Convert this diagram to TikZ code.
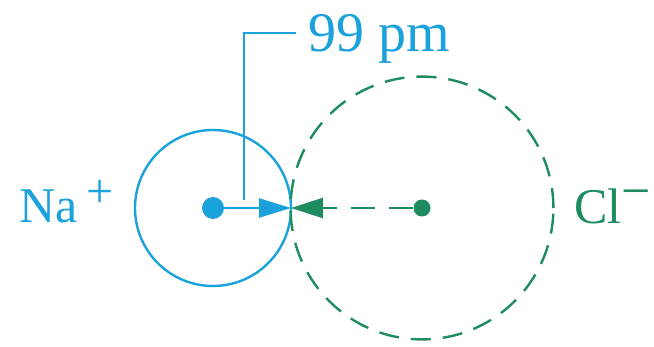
\documentclass[tikz,border=0pt]{standalone}
\usepackage{fontspec}
\setmainfont{Liberation Serif}
\usetikzlibrary{arrows.meta,positioning}
\definecolor{IonBlue}{HTML}{1BA1DB}
\definecolor{IonGreen}{HTML}{1E8C5E}
\begin{document}
\begin{tikzpicture}[
  x=0.5pt,y=-0.5pt,
  nadot/.style={circle,fill=IonBlue,inner sep=0pt,minimum size=11pt},
  cldot/.style={circle,fill=IonGreen,inner sep=0pt,minimum size=8.5pt},
  naring/.style={draw=IonBlue,line width=1.2pt},
  clring/.style={draw=IonGreen,line width=1.2pt,dash pattern=on 10pt off 6pt},
  naarr/.style={-{Triangle[length=16pt,width=9.5pt]},IonBlue,line width=1.2pt},
  clarr/.style={-{Triangle[length=16pt,width=10pt]},IonGreen,line width=1.2pt,dash pattern=on 12pt off 7pt},
  lead/.style={draw=IonBlue,line width=1.1pt},
  ion/.style={font=\fontsize{25}{28}\selectfont,inner sep=0pt},
  dist/.style={font=\fontsize{28}{32}\selectfont,inner sep=0pt,text=IonBlue}
]
\useasboundingbox (0,0) rectangle (654,347);
\node[nadot] (na) at (213,208) {};
\node[cldot] (cl) at (422,208) {};
\coordinate (touch) at (291,208);
\draw[naring] (na.center) circle[radius=39pt];
\draw[clring] (cl.center) circle[radius=65.7pt];
\draw[naarr] (na) -- (touch);
\draw[clarr] (cl) -- (touch);

\coordinate (foot) at (244,200);
\coordinate (knee) at (244,33);
\node[dist,anchor=base west] (pm) at (308,52) {99 pm};
\draw[lead] (foot) -- (knee) -- ([xshift=-6pt]pm.west |- knee);

\node[ion,anchor=base west,text=IonBlue] (nalabel) at (19,223) {Na\,\raisebox{0.3em}{\fontsize{24}{24}\selectfont+}};
\node[ion,anchor=base west,text=IonGreen] (cllabel) at (574,224) {Cl\raisebox{0.3em}{\fontsize{26}{26}\selectfont\textminus}};
\end{tikzpicture}
\end{document}
